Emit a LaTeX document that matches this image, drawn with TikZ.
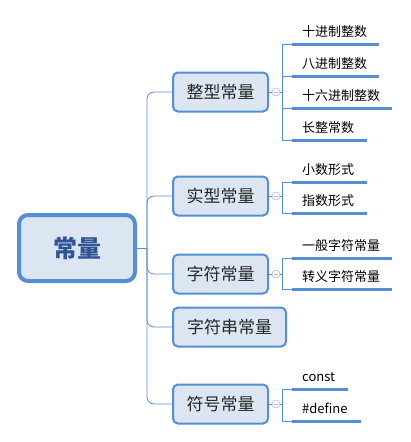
\documentclass[tikz,border=0pt]{standalone}
\usepackage{fontspec}
\setmainfont{Noto Sans CJK SC}
\usetikzlibrary{positioning}
\definecolor{topicblue}{HTML}{558ED5}
\definecolor{topicfill}{HTML}{DCE6F2}
\definecolor{roottext}{HTML}{2F5597}
\definecolor{foldgray}{HTML}{A9B8D6}

\begin{document}
\begin{tikzpicture}[x=1pt,y=-1pt,
        root/.style={draw=topicblue,fill=topicfill,line width=4pt,rounded corners=9pt,minimum width=116pt,minimum height=66pt,font=\fontsize{24}{24}\selectfont\bfseries,text=roottext},
        topic/.style={draw=topicblue,fill=topicfill,line width=2pt,rounded corners=5pt,minimum width=95pt,minimum height=39pt,anchor=west,font=\fontsize{17}{17}\selectfont,text=black!85},
        fold/.style={circle,draw=foldgray,fill=white,minimum size=8pt,inner sep=0pt,line width=0.6pt,
            path picture={\draw[foldgray] ([xshift=-2pt]path picture bounding box.center) -- ([xshift=2pt]path picture bounding box.center);}},
        leaf/.style={anchor=south west,inner xsep=10pt,inner ysep=4pt,text height=10pt,text depth=3pt,align=left,font=\fontsize{13}{13}\selectfont},
        link/.style={topicblue,line width=0.8pt},
        uline/.style={topicblue,line width=3pt}]
    \useasboundingbox (0,0) rectangle (410,442);
    \node[root] (root) at (77,248) {常量};
    \coordinate (trunk) at ([xshift=10pt]root.east);
    \node[topic] (b1) at (172,92) {整型常量};
    \node[topic] (b2) at (172,196) {实型常量};
    \node[topic] (b3) at (172,274) {字符常量};
    \node[topic,minimum width=113pt] (b4) at (172,327) {字符串常量};
    \node[topic] (b5) at (172,404) {符号常量};
    \draw[link] (root.east) -- (trunk);
    \foreach \b in {b1,b2,b3,b4,b5}
        \draw[link,rounded corners=7pt] (trunk) |- (\b.west);
    \node[fold] (f1) at (276,92) {};
    \node[fold] (f2) at (276,196) {};
    \node[fold] (f3) at (276,274) {};
    \node[fold] (f5) at (276,404) {};
    \node[leaf,text width=67pt] (l11) at (292,44) {十进制整数};
    \node[leaf,text width=67pt] (l12) at (292,76) {八进制整数};
    \node[leaf,text width=80pt] (l13) at (292,108) {十六进制整数};
    \node[leaf,text width=55pt] (l14) at (292,140) {长整常数};
    \node[leaf,text width=55pt] (l21) at (292,182) {小数形式};
    \node[leaf,text width=55pt] (l22) at (292,213) {指数形式};
    \node[leaf,text width=80pt] (l31) at (292,258) {一般字符常量};
    \node[leaf,text width=80pt] (l32) at (292,289) {转义字符常量};
    \node[leaf,text width=36pt] (l51) at (292,389) {const};
    \node[leaf,text width=49pt] (l52) at (292,421) {\#define};
    \draw[link] (b1) -- (f1);
    \draw[link] (b2) -- (f2);
    \draw[link] (b3) -- (f3);
    \draw[link] (b5) -- (f5);
    \draw[link] (f1.east) -- ++(2,0);
    \draw[link] (f2.east) -- ++(2,0);
    \draw[link] (f3.east) -- ++(2,0);
    \draw[link] (f5.east) -- ++(2,0);
    \draw[link] (l11.south west) -- ++(-10,0) |- (l14.south west);
    \draw[link] (l12.south west) -- ++(-10,0);
    \draw[link] (l13.south west) -- ++(-10,0);
    \draw[link] (l21.south west) -- ++(-10,0) |- (l22.south west);
    \draw[link] (l31.south west) -- ++(-10,0) |- (l32.south west);
    \draw[link] (l51.south west) -- ++(-10,0) |- (l52.south west);
    \foreach \l in {l11,l12,l13,l14,l21,l22,l31,l32,l51,l52}
        \draw[uline] (\l.south west) -- (\l.south east);
\end{tikzpicture}
\end{document}
